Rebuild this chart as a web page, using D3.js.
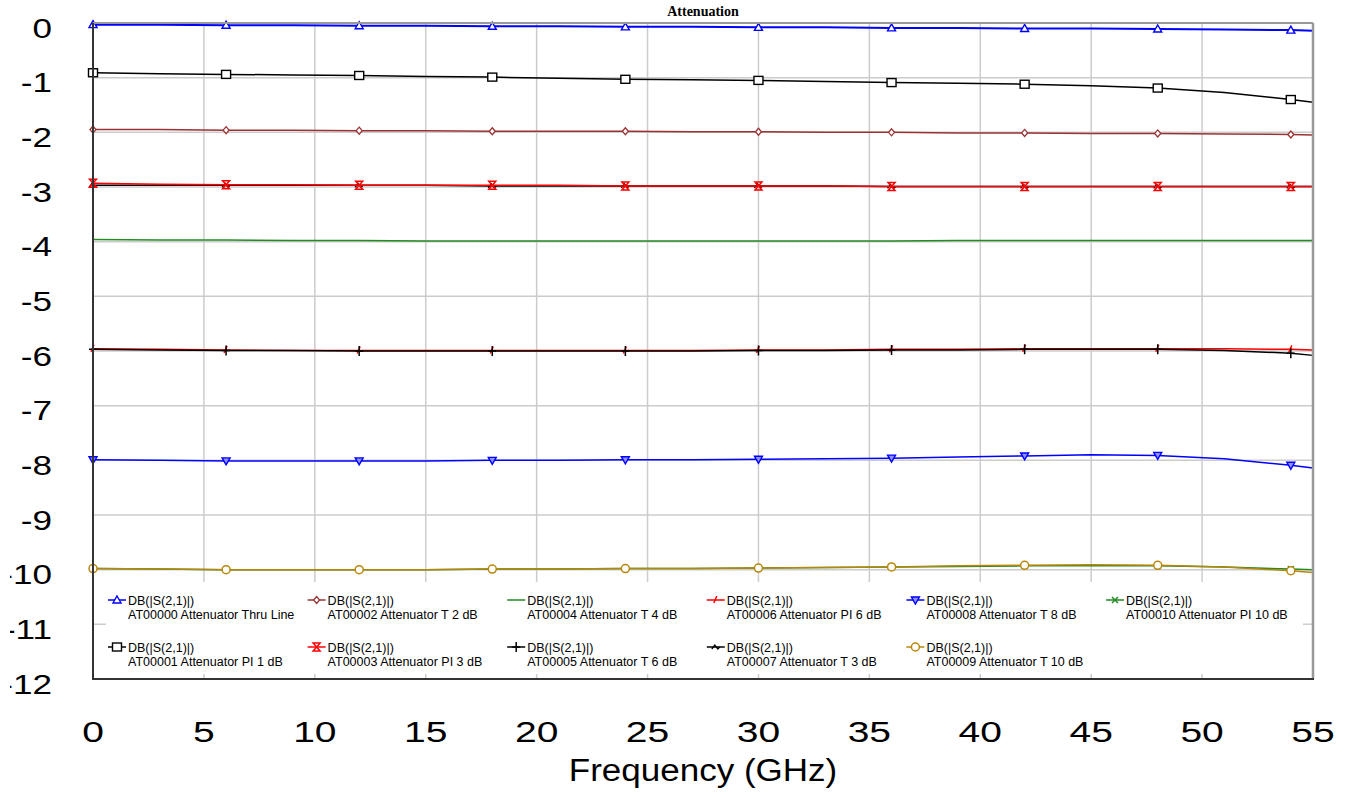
<!DOCTYPE html>
<html>
<head>
<meta charset="utf-8">
<script src="https://cdn.jsdelivr.net/npm/d3@7"></script>
<style>
  body { margin: 0; background: #fff; }
  svg { display: block; }
</style>
</head>
<body>
<div id="chart"></div>
<script>

// frequency points (GHz)
var freq = [0, 3, 6, 9, 12, 15, 18, 21, 24, 27, 30, 33, 36, 39, 42, 45, 48, 51, 54, 55];

var at00000 = [-0.03, -0.03, -0.04, -0.04, -0.05, -0.05, -0.06, -0.06, -0.07, -0.07, -0.08, -0.08, -0.09, -0.09, -0.10, -0.10, -0.11, -0.12, -0.13, -0.14];
var at00001 = [-0.91, -0.93, -0.94, -0.95, -0.96, -0.98, -0.99, -1.01, -1.03, -1.04, -1.05, -1.07, -1.09, -1.10, -1.12, -1.15, -1.19, -1.27, -1.40, -1.45];
var at00002 = [-1.95, -1.95, -1.96, -1.96, -1.97, -1.97, -1.98, -1.98, -1.98, -1.99, -1.99, -2.00, -2.00, -2.01, -2.01, -2.02, -2.02, -2.03, -2.04, -2.05];
var at00003 = [-2.93, -2.95, -2.96, -2.96, -2.97, -2.97, -2.97, -2.97, -2.98, -2.98, -2.98, -2.98, -2.99, -2.99, -2.99, -2.99, -2.99, -2.99, -2.99, -2.99];
var at00004 = [-3.96, -3.97, -3.97, -3.98, -3.98, -3.99, -3.99, -3.99, -3.99, -3.99, -3.99, -3.99, -3.99, -3.98, -3.98, -3.98, -3.98, -3.98, -3.98, -3.98];
var at00005 = [-5.97, -5.98, -5.99, -5.99, -6.00, -6.00, -6.00, -6.00, -6.00, -6.00, -5.99, -5.99, -5.98, -5.98, -5.97, -5.97, -5.97, -5.99, -6.04, -6.08];
var at00006 = [-5.96, -5.97, -5.98, -5.99, -5.99, -5.99, -5.99, -5.99, -5.99, -5.99, -5.98, -5.98, -5.97, -5.97, -5.96, -5.96, -5.96, -5.96, -5.97, -5.98];
var at00007 = [-2.97, -2.97, -2.97, -2.97, -2.97, -2.97, -2.98, -2.98, -2.98, -2.98, -2.98, -2.98, -2.99, -2.99, -2.99, -2.99, -2.99, -2.99, -2.99, -2.99];
var at00008 = [-7.99, -8.00, -8.01, -8.01, -8.01, -8.01, -8.00, -8.00, -7.99, -7.99, -7.98, -7.97, -7.96, -7.94, -7.92, -7.90, -7.91, -7.97, -8.09, -8.14];
var at00009 = [-9.98, -9.99, -10.00, -10.00, -10.00, -10.00, -9.99, -9.99, -9.98, -9.98, -9.97, -9.96, -9.95, -9.93, -9.92, -9.91, -9.92, -9.95, -10.02, -10.05];
var at00010 = [-9.98, -9.99, -10.00, -10.00, -10.00, -10.00, -9.99, -9.99, -9.98, -9.98, -9.97, -9.96, -9.95, -9.94, -9.93, -9.93, -9.93, -9.95, -9.99, -10.00];

var seriesNames = ["AT00000 Attenuator Thru Line", "AT00001 Attenuator PI 1 dB", "AT00002 Attenuator T 2 dB",
    "AT00003 Attenuator PI 3 dB", "AT00004 Attenuator T 4 dB", "AT00005 Attenuator T 6 dB",
    "AT00006 Attenuator PI 6 dB", "AT00007 Attenuator T 3 dB", "AT00008 Attenuator T 8 dB",
    "AT00009 Attenuator T 10 dB", "AT00010 Attenuator PI 10 dB"];
var seriesValues = [at00000, at00001, at00002, at00003, at00004, at00005, at00006, at00007, at00008, at00009, at00010];
var seriesColors = ["#0000ff", "#000000", "#993333", "#ff0000", "#228b22", "#000000", "#ff0000", "#000000", "#0000ff", "#b8860b", "#228b22"];
var seriesMarkers = ["triUp", "square", "diamond", "hourglass", "none", "plus", "slash", "tilde", "triDown", "circle", "cross"];

var measureLabel = "DB(|S(2,1)|)";
var xTicks = [0, 5, 10, 15, 20, 25, 30, 35, 40, 45, 50, 55];
var yTicks = [0, -1, -2, -3, -4, -5, -6, -7, -8, -9, -10, -11, -12];
var markerFreqs = [0, 6, 12, 18, 24, 30, 36, 42, 48, 54];

var W = 1346, H = 792;
var plot = {left: 93, right: 1313, top: 23, bottom: 679};

var svg = d3.select("#chart").append("svg")
    .attr("width", W)
    .attr("height", H);

var x = d3.scaleLinear().domain([0, 55]).range([plot.left, plot.right]);
var y = d3.scaleLinear().domain([0, -12]).range([plot.top, plot.bottom]);

// grid
var grid = svg.append("g");
grid.selectAll("line.gx")
    .data(xTicks.slice(1, -1))
    .enter().append("line")
    .attr("x1", function(d){ return x(d) })
    .attr("x2", function(d){ return x(d) })
    .attr("y1", plot.top)
    .attr("y2", plot.bottom)
    .style("stroke", "#cccccc")
    .style("stroke-width", 1.5);
grid.selectAll("line.gy")
    .data(yTicks.slice(1, -1))
    .enter().append("line")
    .attr("x1", plot.left)
    .attr("x2", plot.right)
    .attr("y1", function(d){ return y(d) })
    .attr("y2", function(d){ return y(d) })
    .style("stroke", "#cccccc")
    .style("stroke-width", 1.5);

// legend background covers grid
var legendBox = {x: 106, y: 582, w: 1197, h: 92};
svg.append("rect")
    .attr("x", legendBox.x).attr("y", legendBox.y)
    .attr("width", legendBox.w).attr("height", legendBox.h)
    .style("fill", "#fff");

function drawMarker(g, type, color) {
    if (type == "triUp") {
        g.append("path").attr("d", "M0,-4L4,3L-4,3Z").style("fill", "#fff").style("stroke", color).style("stroke-width", 1.4);
    } else if (type == "square") {
        g.append("rect").attr("x", -4.5).attr("y", -4).attr("width", 9).attr("height", 8)
            .style("fill", "#fff").style("stroke", color).style("stroke-width", 1.4);
    } else if (type == "diamond") {
        g.append("path").attr("d", "M0,-3.5L3,0L0,3.5L-3,0Z").style("fill", "#fff").style("stroke", color).style("stroke-width", 1.3);
    } else if (type == "hourglass") {
        g.append("path").attr("d", "M-3.5,-4L3.5,-4L-3.5,4L3.5,4Z").style("fill", "none").style("stroke", color).style("stroke-width", 1.5);
    } else if (type == "plus") {
        g.append("path").attr("d", "M0,-5V5M-4,0H4").style("fill", "none").style("stroke", color).style("stroke-width", 1.5);
    } else if (type == "slash") {
        g.append("path").attr("d", "M-2,3L1,-4").style("fill", "none").style("stroke", color).style("stroke-width", 1.5);
    } else if (type == "tilde") {
        g.append("path").attr("d", "M-4,2L-1,-2L2,2L4,0").style("fill", "none").style("stroke", color).style("stroke-width", 1.3);
    } else if (type == "triDown") {
        g.append("path").attr("d", "M-4,-3L4,-3L0,4Z").style("fill", "#8f8fff").style("stroke", color).style("stroke-width", 1.4);
    } else if (type == "circle") {
        g.append("circle").attr("r", 4).style("fill", "#fff").style("stroke", color).style("stroke-width", 1.5);
    } else if (type == "cross") {
        g.append("path").attr("d", "M-3,-3L3,3M-3,3L3,-3").style("fill", "none").style("stroke", color).style("stroke-width", 1.5);
    }
}

var series = seriesNames.map(function(name, i){
    return {
        name: name,
        color: seriesColors[i],
        marker: seriesMarkers[i],
        points: freq.map(function(f, j){ return {f: f, v: seriesValues[i][j]} })
    };
});

var line = d3.line()
    .x(function(d){ return x(d.f) })
    .y(function(d){ return y(d.v) });

// draw traces, last series first so the low index ones sit on top
var traces = svg.append("g");
series.slice().reverse().forEach(function(s){
    traces.append("path")
        .datum(s.points)
        .attr("d", line)
        .style("fill", "none")
        .style("stroke", s.color)
        .style("stroke-width", s.name.indexOf("Thru") > -1 ? 2 : 1.5);
    s.points.filter(function(d){ return markerFreqs.indexOf(d.f) > -1 })
        .forEach(function(d){
            var g = traces.append("g").attr("transform", "translate(" + x(d.f) + "," + y(d.v) + ")");
            drawMarker(g, s.marker, s.color);
        });
});

// legend entries, filled column by column
var legend = svg.append("g").style("font-family", "'Liberation Sans', Arial, sans-serif").style("font-size", "12.5px");
series.forEach(function(s, i){
    var col = Math.floor(i / 2), row = i % 2;
    var lx = 108 + col * 199.6, ly = 600 + row * 47;
    var g = legend.append("g").attr("transform", "translate(" + lx + "," + ly + ")");
    g.append("line").attr("x1", 0).attr("x2", 18).attr("y1", 0).attr("y2", 0)
        .style("stroke", s.color).style("stroke-width", 1.5);
    var m = g.append("g").attr("transform", "translate(9,0)");
    drawMarker(m, s.marker, s.color);
    g.append("text").attr("x", 20).attr("y", 5).text(measureLabel).style("fill", "#000");
    g.append("text").attr("x", 20).attr("y", 19).text(s.name).style("fill", "#000");
});

// frame
svg.append("line").attr("x1", plot.left).attr("x2", plot.right).attr("y1", plot.top).attr("y2", plot.top)
    .style("stroke", "#999").style("stroke-width", 2);
svg.append("line").attr("x1", plot.right).attr("x2", plot.right).attr("y1", plot.top).attr("y2", plot.bottom)
    .style("stroke", "#999").style("stroke-width", 2.5);
svg.append("line").attr("x1", plot.left).attr("x2", plot.left).attr("y1", plot.top).attr("y2", plot.bottom + 1)
    .style("stroke", "#333").style("stroke-width", 2);
svg.append("line").attr("x1", plot.left).attr("x2", plot.right + 1).attr("y1", plot.bottom).attr("y2", plot.bottom)
    .style("stroke", "#333").style("stroke-width", 2);

// y tick labels (left margin clips the long minus signs)
svg.append("clipPath").attr("id", "yclip")
    .append("rect").attr("x", 10).attr("y", 0).attr("width", 80).attr("height", H);
var yLab = svg.append("g").attr("clip-path", "url(#yclip)")
    .style("font-family", "'Liberation Sans', Arial, sans-serif").style("font-size", "27px");
yLab.selectAll("text")
    .data(yTicks)
    .enter().append("text")
    .attr("transform", function(d){ return "translate(52," + (y(d) + 14.5) + ") scale(1.3,1)" })
    .attr("text-anchor", "end")
    .text(function(d){ return d == 0 ? "0" : "-" + Math.abs(d) });

// x tick labels
svg.append("g")
    .style("font-family", "'Liberation Sans', Arial, sans-serif").style("font-size", "30px")
    .selectAll("text")
    .data(xTicks)
    .enter().append("text")
    .attr("transform", function(d){ return "translate(" + x(d) + ",742) scale(1.3,1)" })
    .attr("text-anchor", "middle")
    .text(function(d){ return d });

svg.append("text")
    .attr("transform", "translate(703,781) scale(1.13,1)")
    .attr("text-anchor", "middle")
    .style("font-family", "'Liberation Sans', Arial, sans-serif").style("font-size", "31px")
    .text("Frequency (GHz)");

svg.append("text")
    .attr("x", 703).attr("y", 16)
    .attr("text-anchor", "middle")
    .style("font-family", "'Liberation Serif', 'Times New Roman', serif")
    .style("font-size", "14px").style("font-weight", "bold")
    .text("Attenuation");

</script>
</body>
</html>
